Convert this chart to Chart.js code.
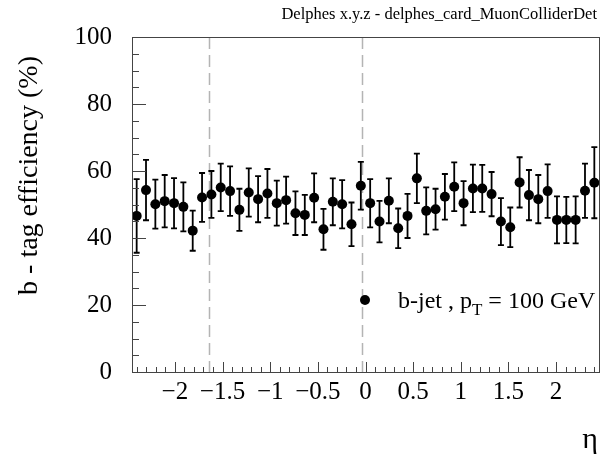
<!DOCTYPE html>
<html>
<head>
<meta charset="utf-8">
<script src="https://cdn.jsdelivr.net/npm/chart.js@4.4.0/dist/chart.umd.min.js"></script>
<style>
  html, body { margin: 0; padding: 0; background: #fff; }
</style>
</head>
<body>
<canvas id="chart-eff" width="604" height="459"></canvas>
<script>
// eta bin centres (50 bins between -2.45 and 2.45)
var etaBins = [
  -2.401, -2.303, -2.205, -2.107, -2.009, -1.911, -1.813, -1.715, -1.617, -1.519,
  -1.421, -1.323, -1.225, -1.127, -1.029, -0.931, -0.833, -0.735, -0.637, -0.539,
  -0.441, -0.343, -0.245, -0.147, -0.049, 0.049, 0.147, 0.245, 0.343, 0.441,
  0.539, 0.637, 0.735, 0.833, 0.931, 1.029, 1.127, 1.225, 1.323, 1.421,
  1.519, 1.617, 1.715, 1.813, 1.911, 2.009, 2.107, 2.205, 2.303, 2.401
];
// b-tag efficiency (%) and its error
var efficiency = [
  46.6, 54.3, 50.1, 51.0, 50.4, 49.3, 42.2, 52.1, 53.0, 55.1,
  54.0, 48.4, 53.6, 51.6, 53.3, 50.4, 51.3, 47.4, 46.9, 52.0,
  42.6, 50.8, 50.1, 44.1, 55.6, 50.4, 44.9, 51.1, 42.9, 46.6,
  57.8, 48.1, 48.6, 52.3, 55.3, 50.4, 54.8, 54.8, 53.1, 44.9,
  43.2, 56.6, 52.8, 51.6, 54.0, 45.4, 45.4, 45.4, 54.1, 56.5
];
var efficiencyErr = [
  11.0, 9.0, 7.3, 7.8, 7.5, 7.3, 6.0, 7.3, 7.0, 7.1,
  7.4, 6.3, 7.2, 6.9, 7.3, 6.7, 7.0, 6.5, 6.0, 7.3,
  6.1, 7.0, 7.2, 6.5, 7.1, 7.2, 6.2, 6.7, 5.9, 6.6,
  7.4, 7.0, 6.1, 6.8, 7.3, 6.6, 7.1, 7.0, 6.6, 7.0,
  5.9, 7.5, 7.5, 7.2, 8.0, 7.0, 6.9, 7.0, 8.1, 10.6
];
var xTickLabels = [-2, -1.5, -1, -0.5, 0, 0.5, 1, 1.5, 2];
var yTickLabels = [0, 20, 40, 60, 80, 100];
var dashedEta = [-1.64, -0.035];

var serif = "'Liberation Serif', 'DejaVu Serif', serif";

function fmt(v) {
  return v < 0 ? '\u2212' + Math.abs(v) : String(v);
}

var rootStyle = {
  id: 'rootStyle',
  beforeDatasetsDraw: function(chart) {
    var ctx = chart.ctx, x = chart.scales.x, y = chart.scales.y, a = chart.chartArea;
    ctx.save();
    // dashed eta markers
    ctx.strokeStyle = '#b4b4b4';
    ctx.lineWidth = 1.5;
    ctx.setLineDash([12, 6]);
    dashedEta.forEach(function(e) {
      var px = Math.round(x.getPixelForValue(e)) + 0.5;
      ctx.beginPath();
      ctx.moveTo(px, a.top);
      ctx.lineTo(px, a.bottom);
      ctx.stroke();
    });
    ctx.setLineDash([]);
    // error bars
    ctx.strokeStyle = '#000';
    ctx.lineWidth = 1.8;
    etaBins.forEach(function(e, i) {
      var px = x.getPixelForValue(e);
      var hi = y.getPixelForValue(efficiency[i] + efficiencyErr[i]);
      var lo = y.getPixelForValue(efficiency[i] - efficiencyErr[i]);
      ctx.beginPath();
      ctx.moveTo(px, hi); ctx.lineTo(px, lo);
      ctx.moveTo(px - 3, hi); ctx.lineTo(px + 3, hi);
      ctx.moveTo(px - 3, lo); ctx.lineTo(px + 3, lo);
      ctx.stroke();
    });
    ctx.restore();
  },
  afterDatasetsDraw: function(chart) {
    var ctx = chart.ctx, x = chart.scales.x, y = chart.scales.y, a = chart.chartArea;
    ctx.save();
    ctx.strokeStyle = '#444';
    ctx.lineWidth = 1;
    ctx.strokeRect(Math.round(a.left) + 0.5, Math.round(a.top) + 0.5,
                   Math.round(a.right - a.left), Math.round(a.bottom - a.top));
    ctx.beginPath();
    // y ticks every 5, long every 20
    for (var v = 0; v <= 100; v += 5) {
      var py = Math.round(y.getPixelForValue(v)) + 0.5;
      var len = v % 20 === 0 ? 14 : 7;
      ctx.moveTo(a.left, py); ctx.lineTo(a.left + len, py);
    }
    // x ticks every 0.1, long every 0.5
    for (var k = -24; k <= 24; k++) {
      var px = Math.round(x.getPixelForValue(k / 10)) + 0.5;
      var l = k % 5 === 0 ? 10 : 5;
      ctx.moveTo(px, a.bottom); ctx.lineTo(px, a.bottom - l);
    }
    ctx.stroke();
    ctx.restore();
  },
  afterDraw: function(chart) {
    var ctx = chart.ctx;
    ctx.save();
    ctx.fillStyle = '#000';
    // header
    ctx.font = '16.5px ' + serif;
    ctx.textAlign = 'right';
    ctx.textBaseline = 'alphabetic';
    ctx.fillText('Delphes x.y.z - delphes_card_MuonColliderDet', 597, 19);
    // y title
    ctx.save();
    ctx.translate(30, 56);
    ctx.rotate(-Math.PI / 2);
    ctx.font = '28px ' + serif;
    ctx.textAlign = 'right';
    ctx.textBaseline = 'middle';
    ctx.fillText('b - tag efficiency (%)', 0, 0);
    ctx.restore();
    // x title
    ctx.font = '30px ' + serif;
    ctx.textAlign = 'center';
    ctx.textBaseline = 'middle';
    ctx.fillText('\u03B7', 590, 440);
    // legend
    ctx.beginPath();
    ctx.arc(365, 300, 5, 0, Math.PI * 2);
    ctx.fill();
    ctx.textAlign = 'left';
    ctx.textBaseline = 'alphabetic';
    ctx.font = '24px ' + serif;
    var tx = 398, ty = 308;
    var s1 = 'b-jet , p';
    ctx.fillText(s1, tx, ty);
    tx += ctx.measureText(s1).width;
    ctx.font = '17px ' + serif;
    ctx.fillText('T', tx, ty + 7);
    tx += ctx.measureText('T').width;
    ctx.font = '24px ' + serif;
    ctx.fillText(' = 100 GeV', tx, ty);
    ctx.restore();
  }
};

var chartEff = new Chart(document.getElementById('chart-eff'), {
  type: 'scatter',
  data: {
    datasets: [{
      data: etaBins.map(function(e, i) { return { x: e, y: efficiency[i] }; }),
      pointRadius: 5,
      pointHoverRadius: 5,
      backgroundColor: '#000',
      borderWidth: 0
    }]
  },
  options: {
    responsive: false,
    animation: false,
    layout: { padding: { top: 37, right: 4, left: 0, bottom: 0 } },
    plugins: { legend: { display: false }, tooltip: { enabled: false } },
    scales: {
      x: {
        type: 'linear',
        min: -2.45,
        max: 2.45,
        grid: { display: false, drawTicks: false },
        border: { display: false },
        afterBuildTicks: function(scale) {
          scale.ticks = xTickLabels.map(function(v) { return { value: v }; });
        },
        afterFit: function(scale) { scale.height = 87; },
        ticks: {
          padding: 5,
          maxRotation: 0,
          autoSkip: false,
          color: '#000',
          font: { family: serif, size: 25 },
          callback: function(v) { return fmt(v); }
        }
      },
      y: {
        min: 0,
        max: 100,
        grid: { display: false, drawTicks: false },
        border: { display: false },
        afterBuildTicks: function(scale) {
          scale.ticks = yTickLabels.map(function(v) { return { value: v }; });
        },
        afterFit: function(scale) { scale.width = 132; },
        ticks: {
          padding: 20,
          color: '#000',
          font: { family: serif, size: 25 },
          callback: function(v) { return fmt(v); }
        }
      }
    }
  },
  plugins: [rootStyle]
});
</script>
</body>
</html>
